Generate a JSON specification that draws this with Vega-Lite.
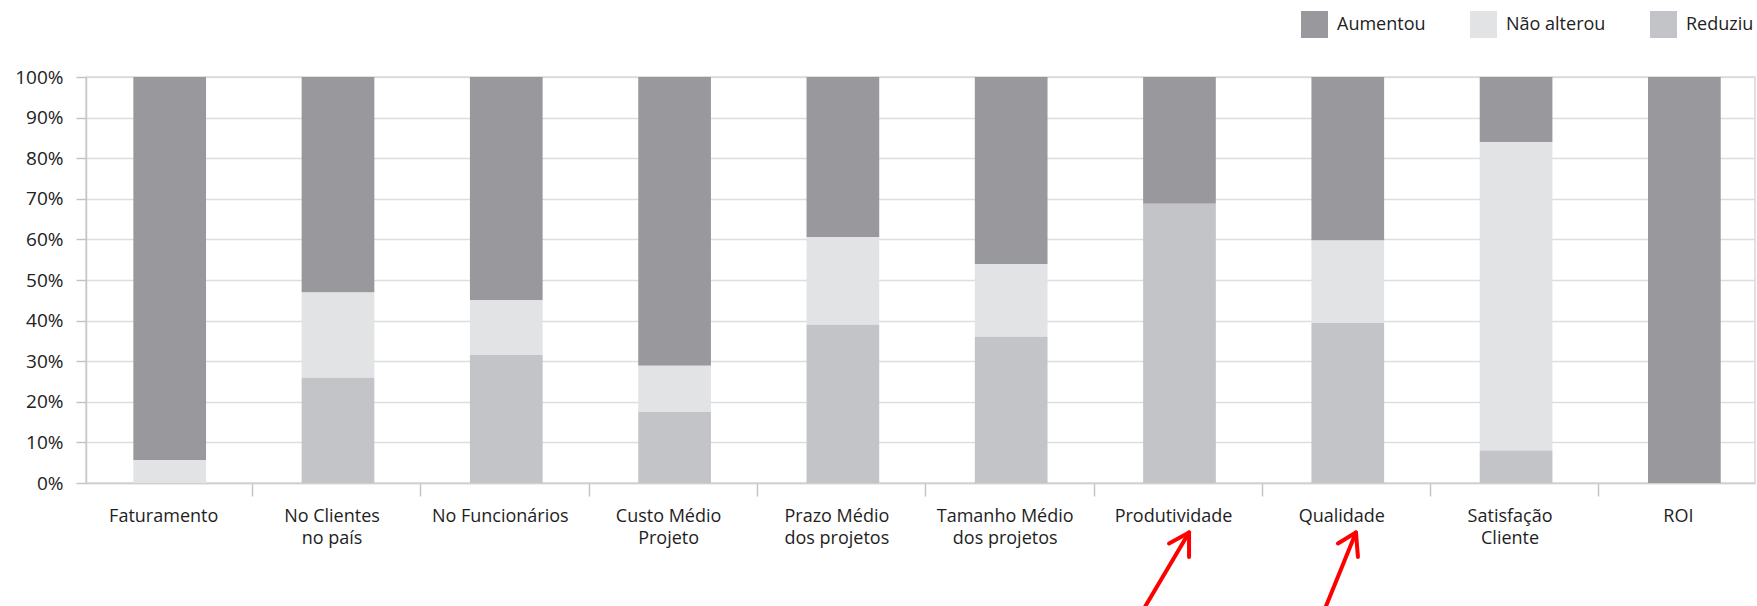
{
  "$schema": "https://vega.github.io/schema/vega-lite/v6.json",
  "width": 1669,
  "height": 406,
  "autosize": {"type": "none"},
  "padding": {"left": 86, "top": 77, "right": 2, "bottom": 123},
  "background": "white",
  "config": {
    "view": {"stroke": "#d6d8d8", "strokeWidth": 1.5},
    "font": "Open Sans"
  },
  "datasets": {
    "bars": [
      {"categoria": "Faturamento", "serie": "Aumentou", "pct": 94.4},
      {"categoria": "Faturamento", "serie": "Não alterou", "pct": 5.6},
      {"categoria": "Faturamento", "serie": "Reduziu", "pct": 0},
      {"categoria": "No Clientes\nno país", "serie": "Aumentou", "pct": 53.1},
      {"categoria": "No Clientes\nno país", "serie": "Não alterou", "pct": 21.0},
      {"categoria": "No Clientes\nno país", "serie": "Reduziu", "pct": 25.9},
      {"categoria": "No Funcionários", "serie": "Aumentou", "pct": 54.9},
      {"categoria": "No Funcionários", "serie": "Não alterou", "pct": 13.6},
      {"categoria": "No Funcionários", "serie": "Reduziu", "pct": 31.5},
      {"categoria": "Custo Médio\nProjeto", "serie": "Aumentou", "pct": 71.1},
      {"categoria": "Custo Médio\nProjeto", "serie": "Não alterou", "pct": 11.4},
      {"categoria": "Custo Médio\nProjeto", "serie": "Reduziu", "pct": 17.5},
      {"categoria": "Prazo Médio\ndos projetos", "serie": "Aumentou", "pct": 39.5},
      {"categoria": "Prazo Médio\ndos projetos", "serie": "Não alterou", "pct": 21.5},
      {"categoria": "Prazo Médio\ndos projetos", "serie": "Reduziu", "pct": 39.0},
      {"categoria": "Tamanho Médio\ndos projetos", "serie": "Aumentou", "pct": 46.1},
      {"categoria": "Tamanho Médio\ndos projetos", "serie": "Não alterou", "pct": 17.9},
      {"categoria": "Tamanho Médio\ndos projetos", "serie": "Reduziu", "pct": 36.0},
      {"categoria": "Produtividade", "serie": "Aumentou", "pct": 31.2},
      {"categoria": "Produtividade", "serie": "Não alterou", "pct": 0},
      {"categoria": "Produtividade", "serie": "Reduziu", "pct": 68.8},
      {"categoria": "Qualidade", "serie": "Aumentou", "pct": 40.3},
      {"categoria": "Qualidade", "serie": "Não alterou", "pct": 20.3},
      {"categoria": "Qualidade", "serie": "Reduziu", "pct": 39.4},
      {"categoria": "Satisfação\nCliente", "serie": "Aumentou", "pct": 16.1},
      {"categoria": "Satisfação\nCliente", "serie": "Não alterou", "pct": 75.9},
      {"categoria": "Satisfação\nCliente", "serie": "Reduziu", "pct": 8.0},
      {"categoria": "ROI", "serie": "Aumentou", "pct": 100},
      {"categoria": "ROI", "serie": "Não alterou", "pct": 0},
      {"categoria": "ROI", "serie": "Reduziu", "pct": 0}
    ],
    "arrows": [
      {"seta": "Produtividade", "parte": "haste", "xa": 6.335, "ya": -31.2, "xb": 6.609, "yb": -12.2},
      {"seta": "Produtividade", "parte": "asa esquerda", "xa": 6.609, "ya": -12.2, "xb": 6.489, "yb": -14.9},
      {"seta": "Produtividade", "parte": "asa direita", "xa": 6.609, "ya": -12.2, "xb": 6.609, "yb": -18.2},
      {"seta": "Qualidade", "parte": "haste", "xa": 7.421, "ya": -31.2, "xb": 7.609, "yb": -12.2},
      {"seta": "Qualidade", "parte": "asa esquerda", "xa": 7.609, "ya": -12.2, "xb": 7.501, "yb": -14.9},
      {"seta": "Qualidade", "parte": "asa direita", "xa": 7.609, "ya": -12.2, "xb": 7.621, "yb": -18.2}
    ]
  },
  "layer": [
    {
      "data": {"name": "bars"},
      "mark": {"type": "bar"},
      "encoding": {
        "x": {
          "field": "categoria",
          "type": "nominal",
          "sort": null,
          "scale": {"paddingInner": 0.568, "paddingOuter": 0.2425, "align": 0.58},
          "axis": {
            "title": null,
            "labelAngle": 0,
            "labelExpr": "split(datum.label, '\\n')",
            "labelFont": "Open Sans",
            "labelFontSize": 18,
            "labelColor": "#1e1e1e",
            "labelLineHeight": 22,
            "labelPadding": 11,
            "labelOffset": -6,
            "labelOverlap": false,
            "labelLimit": 0,
            "ticks": true,
            "tickSize": 13,
            "tickColor": "#c3c5c5",
            "tickWidth": 1.5,
            "bandPosition": 1.64,
            "domainColor": "#cfd1d1",
            "domainWidth": 1.5,
            "grid": false
          }
        },
        "y": {
          "field": "pct",
          "type": "quantitative",
          "stack": "zero",
          "scale": {"domain": [0, 100], "nice": false},
          "axis": {
            "title": null,
            "values": [0, 10, 20, 30, 40, 50, 60, 70, 80, 90, 100],
            "labelExpr": "datum.value + '%'",
            "labelFont": "Open Sans",
            "labelFontSize": 19,
            "labelColor": "#222222",
            "labelPadding": 13,
            "tickSize": 10,
            "tickColor": "#c3c5c5",
            "tickWidth": 1.5,
            "domainColor": "#c8caca",
            "domainWidth": 1.5,
            "gridColor": "#dcdede",
            "gridWidth": 1.5
          }
        },
        "color": {
          "field": "serie",
          "type": "nominal",
          "scale": {
            "domain": ["Aumentou", "Não alterou", "Reduziu"],
            "range": ["#99989c", "#e2e3e5", "#c3c4c7"]
          },
          "legend": {
            "title": null,
            "orient": "none",
            "legendX": 1215,
            "legendY": -66,
            "direction": "horizontal",
            "padding": 0,
            "symbolType": "square",
            "symbolSize": 729,
            "symbolStrokeWidth": 0,
            "labelFont": "Open Sans",
            "labelFontSize": 18,
            "labelColor": "#222222",
            "labelOffset": 9,
            "columnPadding": 44
          }
        },
        "order": {"field": "serie", "sort": "descending"}
      }
    },
    {
      "data": {"name": "arrows"},
      "mark": {"type": "rule", "color": "#ff0000", "strokeWidth": 4, "strokeCap": "round"},
      "encoding": {
        "x": {"field": "xa", "type": "quantitative", "scale": {"domain": [0, 10], "nice": false, "zero": false}, "axis": null},
        "x2": {"field": "xb"},
        "y": {"field": "ya", "type": "quantitative", "axis": {"title": null}},
        "y2": {"field": "yb"}
      }
    }
  ],
  "resolve": {"scale": {"x": "independent"}, "axis": {"x": "independent"}}
}
